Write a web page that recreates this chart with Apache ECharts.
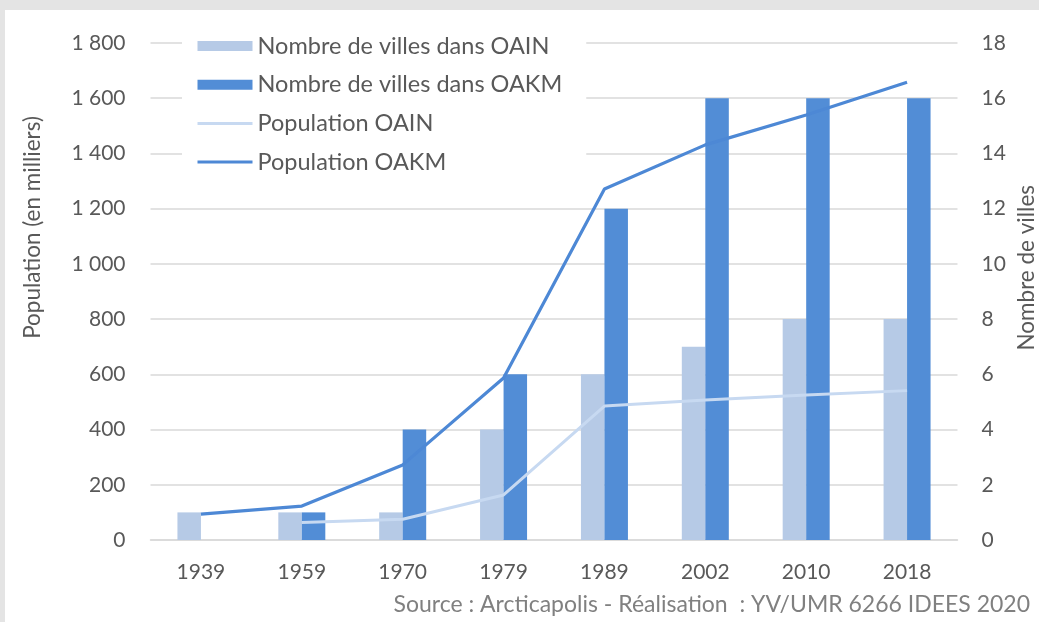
<!DOCTYPE html>
<html>
<head>
<meta charset="utf-8">
<script src="https://cdn.jsdelivr.net/npm/echarts@6/dist/echarts.min.js"></script>
<style>
  html, body { margin: 0; padding: 0; background: #e4e4e4; width: 1039px; height: 622px; overflow: hidden; }
  #chart { position: absolute; left: 5px; top: 10px; width: 1034px; height: 612px; background: #ffffff; }
</style>
</head>
<body>
<div id="chart"></div>
<script>
const categories = ['1939', '1959', '1970', '1979', '1989', '2002', '2010', '2018'];
const villesOAIN = [1, 1, 1, 4, 6, 7, 8, 8];
const villesOAKM = [0, 1, 4, 6, 12, 16, 16, 16];
const popOAIN = [null, 63, 75, 163, 485, 507, 525, 541];
const popOAKM = [94, 123, 272, 587, 1271, 1431, 1539, 1658];
const leftTicks = { min: 0, max: 1800, interval: 200 };
const rightTicks = { min: 0, max: 18, interval: 2 };

const FONT = 'Lato';
const TXT = '#595959';
const C_LIGHT = '#B6CAE6';
const C_DARK = '#528DD6';
const C_LINE_LIGHT = '#C7D9F1';
const C_LINE_DARK = '#4D88D5';

const chart = echarts.init(document.getElementById('chart'), null, { renderer: 'canvas' });
chart.setOption({
  animation: false,
  textStyle: { fontFamily: FONT },
  grid: { left: 145.5, right: 81.5, top: 33, bottom: 82, containLabel: false },
  legend: {
    orient: 'vertical',
    left: 177,
    top: 16,
    padding: [8, 24, 8, 14],
    backgroundColor: '#ffffff',
    itemWidth: 55,
    itemHeight: 10,
    itemGap: 14.7,
    textStyle: { fontFamily: FONT, fontSize: 23.5, color: TXT, lineHeight: 20 },
    data: [
      { name: 'Nombre de villes dans OAIN', icon: 'rect' },
      { name: 'Nombre de villes dans OAKM', icon: 'rect' },
      { name: 'Population OAIN', itemStyle: { opacity: 0 }, lineStyle: { width: 3 } },
      { name: 'Population OAKM', itemStyle: { opacity: 0 }, lineStyle: { width: 3 } }
    ]
  },
  xAxis: {
    type: 'category',
    data: categories,
    axisLine: { lineStyle: { color: '#D9D9D9', width: 1.5 } },
    axisTick: { show: false },
    axisLabel: { color: TXT, fontSize: 21, fontFamily: FONT, margin: 22 }
  },
  yAxis: [
    {
      type: 'value',
      min: leftTicks.min, max: leftTicks.max, interval: leftTicks.interval,
      axisLine: { show: false },
      axisTick: { show: false },
      splitLine: { lineStyle: { color: '#D9D9D9', width: 1.5 } },
      axisLabel: {
        color: TXT, fontSize: 21, fontFamily: FONT, margin: 25,
        formatter: v => String(v).replace(/\B(?=(\d{3})+(?!\d))/g, ' ')
      }
    },
    {
      type: 'value',
      min: rightTicks.min, max: rightTicks.max, interval: rightTicks.interval,
      axisLine: { show: false },
      axisTick: { show: false },
      splitLine: { show: false },
      axisLabel: { color: TXT, fontSize: 21, fontFamily: FONT, margin: 24 }
    }
  ],
  series: [
    {
      name: 'Nombre de villes dans OAIN', type: 'bar', yAxisIndex: 1,
      data: villesOAIN, barWidth: 23.5, barGap: '0%',
      itemStyle: { color: C_LIGHT }
    },
    {
      name: 'Nombre de villes dans OAKM', type: 'bar', yAxisIndex: 1,
      data: villesOAKM, barWidth: 23.5, barGap: '0%',
      itemStyle: { color: C_DARK }
    },
    {
      name: 'Population OAIN', type: 'line', yAxisIndex: 0,
      data: popOAIN, symbol: 'none', connectNulls: false, z: 3,
      lineStyle: { color: C_LINE_LIGHT, width: 3 },
      itemStyle: { color: C_LINE_LIGHT }
    },
    {
      name: 'Population OAKM', type: 'line', yAxisIndex: 0,
      data: popOAKM, symbol: 'none', z: 3,
      lineStyle: { color: C_LINE_DARK, width: 3.2 },
      itemStyle: { color: C_LINE_DARK }
    }
  ],
  graphic: [
    {
      type: 'text', left: 16, top: 106, rotation: Math.PI / 2,
      style: { text: 'Population (en milliers)', fill: TXT, font: '22.5px ' + FONT }
    },
    {
      type: 'text', right: 1, top: 175, rotation: Math.PI / 2,
      style: { text: 'Nombre de villes', fill: TXT, font: '22.5px ' + FONT }
    },
    {
      type: 'text', right: 9, top: 583,
      style: { text: 'Source : Arcticapolis - Réalisation  : YV/UMR 6266 IDEES 2020', fill: '#808080', font: '23px ' + FONT }
    }
  ]
});
</script>
</body>
</html>
